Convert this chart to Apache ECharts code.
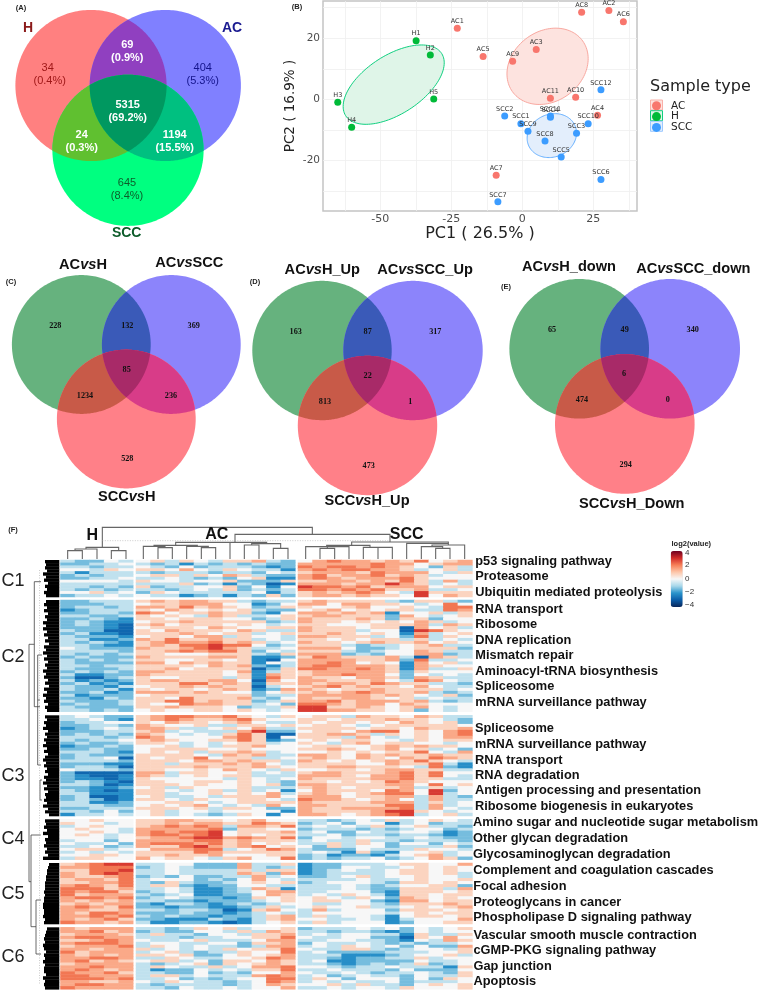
<!DOCTYPE html>
<html><head><meta charset="utf-8">
<style>html,body{margin:0;padding:0;background:#fff}#c{width:761px;height:992px}</style>
<script src="https://cdn.jsdelivr.net/npm/echarts@6/dist/echarts.min.js"></script>
</head><body><div id="c"></div>
<script>
// ---------- DATA ----------
const vennA = ['34','69','404','5315','24','1194','645'];
const vennAPct = ['(0.4%)','(0.9%)','(5.3%)','(69.2%)','(0.3%)','(15.5%)','(8.4%)'];
const vennC = ['228','132','369','85','1234','236','528'];
const vennD = ['163','87','317','22','813','1','473'];
const vennE = ['65','49','340','6','474','0','294'];

const pcaAC = [[-22.9,23.3,'AC1'],[30.5,29.1,'AC2'],[4.9,16.3,'AC3'],[26.5,-5.2,'AC4'],[-13.8,14.0,'AC5'],[35.6,25.4,'AC6'],[-9.2,-24.9,'AC7'],[20.9,28.5,'AC8'],[-3.4,12.5,'AC9'],[18.8,0.7,'AC10'],[9.9,0.3,'AC11']];
const pcaH = [[-37.4,19.2,'H1'],[-32.4,14.5,'H2'],[-65,-1,'H3'],[-60.1,-9.2,'H4'],[-31.2,0.1,'H5']];
const pcaSCC = [[-0.5,-8.0,'SCC1'],[-6.2,-5.5,'SCC2'],[19.1,-11.1,'SCC3'],[9.9,-5.9,'SCC4'],[13.7,-18.9,'SCC5'],[27.7,-26.3,'SCC6'],[-8.6,-33.6,'SCC7'],[8,-13.7,'SCC8'],[2,-10.5,'SCC9'],[23.2,-8,'SCC10'],[9.9,-5.5,'SCC11'],[27.7,3.1,'SCC12']];
// centre x, centre y, half extent x, half extent y, correlation (AC, H, SCC)
const ellipseAC = [8.9,10.8,14.3,12.5,0.2];
const ellipseH = [-45.3,4.8,17.8,13.0,0.55];
const ellipseSCC = [10.4,-11.9,8.7,7.2,0.12];

// heat map rows: one digit per sample, H(5) AC(11) SCC(12); value = (digit-5)*0.7
const C1 = [
"43354 56465466743 578776768567","33445 43424343433 777778775677","44344 54353444323 878878765364","55465 66575465442 787887764564",
"42444 43444344354 677768777546","34344 56646576433 786778676455","33445 44543435622 787677786555","55554 65545563336 667767686474",
"44444 44463424312 777677976454","44343 63445563525 988786777566","43434 44345463434 887878667445","55645 36544444524 676787549666",
"34454 54423424363 677676659576"];
const C2 = [
"33444 67677664344 676666436643","33344 56677755235 775776654585","34434 77686765346 655675565488","23444 65765656433 567565664487",
"33443 87566766325 776767255646","44334 65654764456 677666375456","33432 66566655346 766676366355","34322 56676666634 766565657645",
"34321 67566656545 665556667476","33321 56665765566 766656617564","43311 65766657644 766645519865","34221 66676566456 667656527456",
"43332 56657746554 776664538465","44223 76866766454 665656646454","43432 67877867645 766567667565","44322 67688988534 666434456744",
"54333 76678976445 777533456663","44443 66787886354 666434557644","43434 66555666436 777343557734","34333 76666776223 687666741764",
"43434 66556656215 777766738445","43333 77576766254 778756527564","44344 66665767324 788777627655","43334 66756666136 887787627446",
"34343 77666657246 677777636555","42233 76666656276 677877535454","31134 65566646286 766577637644","42323 67766775175 776667548754",
"34232 66688676266 767768766443","43324 56676766145 678676657544","43342 65665676237 765667666645","33423 77767655356 676787667434",
"42333 56666666344 777776765463","33243 66586667435 766776564544","43334 66886766346 778677767434","34334 65587766453 887677576555",
"43333 66766653446 996676567545","44343 56556656545 997766563545"];
const C3 = [
"45433 67887786546 566476657644","44532 67876678655 665666766543","34455 65766567544 656656576563","33443 76556446656 566545666665",
"23454 77644565744 666656657667","33344 67454447933 566578856578","34343 76545468611 667764656578","44434 87555578615 666475456577",
"43445 67655668623 565665546566","34334 66545456645 654675665545","23343 55645466755 566556767665","33433 56666556555 667656756453",
"44432 56564667645 556565668547","34333 66665476744 776576766766","34451 65668566445 676576576876","44443 66657767664 765656768654",
"33322 66466676754 666655766842","34431 66667666765 667766654832","54443 66556576546 556656776644","31111 77466556454 677666786855",
"32112 76456566444 777657786854","32212 65555546545 766667786644","34321 66556656543 665656876555","44312 66656556563 776666775856",
"33223 56465556444 676566674645","43212 66545646452 576665875935","44222 66455656574 676567885945","34112 56445466675 777566774743",
"34312 66546556654 877656754744","44223 55665456666 766667774645","44433 56567545475 776666884745","33444 66656466533 766777784754",
"44353 56455455552 766667996545","24454 56454346525 776567894564"];
const C4 = [
"55655 66776656755 443454645654","65545 66767766876 345355245344","45655 67878747768 454546456443","56554 77777836655 344434345534",
"55654 78788956667 453354455423","56545 78878956566 445344344323","55545 67789978768 355455445433","45535 77778867666 454464434443",
"54453 78887867565 446465355354","44534 76689767856 536455344463","56645 57778845687 433354446554","45454 66668766666 454263255645",
"55665 66766755566 342332456745","46655 75665467558 343445345763"];
const C5 = [
"67899 44553337446 233444566557","77888 34543337434 233554456565","66889 44544446466 234544566565","76898 44544447637 234444566564",
"76678 34353344745 334564556554","67768 45553435754 444454456556","66778 43643345656 345554366565","78768 46632335544 444543455663",
"88867 44542234762 444543366647","87886 34542234577 445553266656","86777 43452233576 454654266566","78878 34543323656 565465376565",
"76767 44332333456 566553277566","67677 32443234345 544554366676","78768 33233223464 565564456567","77667 44344312675 474555366656",
"76887 33343323454 455555456566","77878 43433233467 464554256656","76786 33222432467 554454245557","87767 42233212456 464555235566"];
const C6 = [
"76777 44346564556 344454535456","77867 34335546476 443443235455","67776 46443554667 454554426446","78877 44434455668 544553316575",
"66787 54456444577 445544325476","78887 45544553667 354454343445","67778 46545443477 454654535337","77677 64545465668 544664345546",
"86777 45643446558 453333444556","76767 66563356567 444222345564","77887 44654455687 443233446455","78676 56645366576 452233335445",
"67777 43456365676 443234346345","77877 46544645778 554344544426","78767 42335454668 445444353335","87786 44335343557 544543445436",
"88777 46645444787 453454435446","88878 44534345588 465355535365","77667 54654434587 454544534445","78877 43444434576 556464435656",
"87777 44354454557 445455465556"];
const clusterNames = ['C1','C2','C3','C4','C5','C6'];
const groupNames = ['H','AC','SCC'];
const pathways = [
 ['p53 signaling pathway','Proteasome','Ubiquitin mediated proteolysis'],
 ['RNA transport','Ribosome','DNA replication','Mismatch repair','Aminoacyl-tRNA biosynthesis','Spliceosome','mRNA surveillance pathway'],
 ['Spliceosome','mRNA surveillance pathway','RNA transport','RNA degradation','Antigen processing and presentation','Ribosome biogenesis in eukaryotes'],
 ['Amino sugar and nucleotide sugar metabolism','Other glycan degradation','Glycosaminoglycan degradation'],
 ['Complement and coagulation cascades','Focal adhesion','Proteoglycans in cancer','Phospholipase D signaling pathway'],
 ['Vascular smooth muscle contraction','cGMP-PKG signaling pathway','Gap junction','Apoptosis']];
const colorTicks = ['4','2','0','\u22122','\u22124'];

// ---------- LAYOUT ----------
const SANS='"Liberation Sans"', DJ='"DejaVu Sans"', SERIF='"Liberation Serif"';
const W=761,H=992;
const series=[], grids=[], xAxes=[], yAxes=[], g=[];
function txt(t,x,y,font,fill,extra){g.push({type:'text',z:100,silent:true,style:Object.assign({text:t,x,y,font,fill:fill||'#111',align:'center',verticalAlign:'middle'},extra||{})});}

// overlay grid in page units (axis 0)
grids.push({left:0,top:0,width:W,height:H,show:false});
xAxes.push({type:'value',gridIndex:0,min:0,max:W,show:false});
yAxes.push({type:'value',gridIndex:0,min:0,max:H,inverse:true,show:false});

// Venn regions
function regionPts(cs){
  const mx=cs.reduce((a,c)=>a+c[0],0)/cs.length,my=cs.reduce((a,c)=>a+c[1],0)/cs.length,pts=[];
  for(let i=0;i<240;i++){
    const t=i/240*2*Math.PI,dx=Math.cos(t),dy=Math.sin(t);let rr=1e9;
    cs.forEach(c=>{const fx=mx-c[0],fy=my-c[1],b=fx*dx+fy*dy,k=fx*fx+fy*fy-c[2]*c[2];rr=Math.min(rr,-b+Math.sqrt(b*b-k));});
    pts.push([mx+dx*rr,my+dy*rr]);
  }
  return pts;
}
const regions=[];
function venn(c1,c2,c3,cols){
  regions.push({pts:regionPts([c1]),c:cols[0]},{pts:regionPts([c2]),c:cols[1]},{pts:regionPts([c3]),c:cols[2]},
    {pts:regionPts([c1,c2]),c:cols[3]},{pts:regionPts([c1,c3]),c:cols[4]},{pts:regionPts([c2,c3]),c:cols[5]},{pts:regionPts([c1,c2,c3]),c:cols[6]});
}
venn([91,85.5,75.6],[165.3,85.5,75.6],[128,150.3,75.6],['#ff8080','#8080ff','#00ff80','#9040c0','#60c030','#00c080','#009860']);
const vennPal=['#66b27e','#8c84fb','#ff8088','#3a5ab8','#c85a48','#d83c88','#a82a68'];
venn([81.3,344.5,69.4],[171.3,344.5,69.4],[126.3,419,69.4],vennPal);
venn([322,350.5,69.7],[413,350.5,69.7],[367.5,425.5,69.7],vennPal);
venn([579.2,348.8,69.8],[670.2,348.8,69.8],[624.8,424,69.8],vennPal);
series.push({type:'custom',xAxisIndex:0,yAxisIndex:0,silent:true,clip:false,z:1,
  data:regions.map((r,i)=>[i,0]),
  renderItem(p,api){const r=regions[api.value(0)];return {type:'polygon',shape:{points:r.pts.map(q=>api.coord(q))},style:{fill:r.c}};}});

// Venn A text
const aPos=[[47.7,67.7,'#a01818'],[127.3,45,'#fff'],[202.7,67.7,'#14148c'],[127.7,105,'#fff'],[81.7,134.7,'#fff'],[174.7,134.7,'#fff'],[127,182.7,'#0d5c2a']];
vennA.forEach((s,i)=>{const w=aPos[i][2]=='#fff'?'bold ':'';txt(s,aPos[i][0],aPos[i][1],w+'11px '+SANS,aPos[i][2]);txt(vennAPct[i],aPos[i][0]+(i==0?2:0),aPos[i][1]+13.3,w+'11px '+SANS,aPos[i][2]);});
txt('H',28,28,'bold 14px '+SANS,'#8b1a1a');txt('AC',232,28,'bold 14px '+SANS,'#1a1a90');txt('SCC',126.7,232.7,'bold 14px '+SANS,'#0d5c2a');
// Venn C/D/E text
function nums(arr,pos){arr.forEach((s,i)=>txt(s,pos[i][0],pos[i][1],'bold 8.2px '+SERIF,'#111'));}
nums(vennC,[[55.3,326],[127.3,326],[193.7,326],[126.7,369.7],[85,395.7],[171,395.7],[127.3,459]]);
nums(vennD,[[295.7,332.3],[367.7,332.3],[435.3,332.3],[367.7,376],[325,402],[410.3,402],[368.7,466]]);
nums(vennE,[[552,330.3],[624.7,330.3],[692.7,330.3],[624,374.3],[582,400.3],[667.7,400.3],[625.7,464.7]]);
const rich={a:{font:'bold 14.6px '+SANS,fill:'#111'},i:{font:'italic bold 14.6px '+SANS,fill:'#111'}};
function vs(a,b,x,y){g.push({type:'text',z:100,silent:true,style:{text:'{a|'+a+'}{i|vs}{a|'+b+'}',rich,x,y,align:'center',verticalAlign:'middle'}});}
vs('AC','H',83,265);vs('AC','SCC',189.3,263.3);vs('SCC','H',126.7,497.3);
vs('AC','H_Up',322.3,270);vs('AC','SCC_Up',425,270);vs('SCC','H_Up',367,500.7);
vs('AC','H_down',569,267.3);vs('AC','SCC_down',693.3,269);vs('SCC','H_Down',631.7,504);
[['(A)',21,8],['(B)',297,7],['(C)',11,282],['(D)',255,282],['(E)',506,287],['(F)',13,530]].forEach(a=>txt(a[0],a[1],a[2],'bold 7.5px '+SANS,'#222'));

// PCA (axis 1)
grids.push({left:323,top:1,width:314,height:210,show:true,borderColor:'#c4c4c4',borderWidth:1.5,backgroundColor:'#fff'});
xAxes.push({type:'value',gridIndex:1,min:-70.2,max:40.4,name:'PC1 ( 26.5% )',nameLocation:'middle',nameGap:12,
  nameTextStyle:{fontFamily:'DejaVu Sans',fontSize:16,color:'#222'},
  axisLine:{show:false},axisTick:{show:false,customValues:[-62.5,-50,-37.5,-25,-12.5,0,12.5,25,37.5]},
  axisLabel:{customValues:[-50,-25,0,25],fontFamily:'DejaVu Sans',fontSize:11,color:'#4d4d4d',margin:3},
  splitLine:{show:true,lineStyle:{color:'#efefef',width:0.8}}});
yAxes.push({type:'value',gridIndex:1,min:-36.6,max:32.2,name:'PC2 ( 16.9% )',nameLocation:'middle',nameGap:25.5,
  nameTextStyle:{fontFamily:'DejaVu Sans',fontSize:13.5,color:'#222'},
  axisLine:{show:false},axisTick:{show:false,customValues:[-30,-20,-10,0,10,20,30]},
  axisLabel:{customValues:[-20,0,20],fontFamily:'DejaVu Sans',fontSize:10.5,color:'#4d4d4d',margin:3},
  splitLine:{show:true,lineStyle:{color:'#efefef',width:0.8}}});
function ellipse(v,fill,stroke){
  series.push({type:'custom',xAxisIndex:1,yAxisIndex:1,silent:true,z:2,data:[v],
    renderItem(p,api){const cx=api.value(0),cy=api.value(1),hx=api.value(2),hy=api.value(3),r=api.value(4),pts=[];
      for(let i=0;i<120;i++){const t=i/120*2*Math.PI;pts.push(api.coord([cx+hx*Math.cos(t),cy+hy*(r*Math.cos(t)+Math.sqrt(1-r*r)*Math.sin(t))]));}
      return {type:'polygon',shape:{points:pts},style:{fill,stroke,lineWidth:1}};},
    encode:{x:0,y:1}});
}
ellipse(ellipseAC,'#fde3df','#f9a8a0');ellipse(ellipseH,'#dff5e8','#10d080');ellipse(ellipseSCC,'#e3eefc','#66b0ff');
function pts(name,d,col){series.push({type:'scatter',name,xAxisIndex:1,yAxisIndex:1,z:3,symbolSize:7,itemStyle:{color:col,opacity:1},
  data:d.map(a=>({value:[a[0],a[1]],name:a[2]})),
  label:{show:true,position:'top',distance:0,formatter:'{b}',fontFamily:'DejaVu Sans',fontSize:6.5,color:'#333'}});}
pts('AC',pcaAC,'#f8766d');pts('H',pcaH,'#00ba38');pts('SCC',pcaSCC,'#3c9cff');
txt('Sample type',650,87,'16px '+DJ,'#222',{align:'left'});
[[100,'#fde3df','#f9b0a8'],[110.7,'#dff5e8','#10d080'],[121.3,'#e3eefc','#9cc8ff']].forEach(b=>g.push({type:'rect',z:1,silent:true,shape:{x:650.5,y:b[0],width:12,height:10},style:{fill:b[1],stroke:b[2],lineWidth:1}}));

// Heat map panels
const clusters=[C1,C2,C3,C4,C5,C6];
const xBlocks=[[60.5,72.7,0,5],[136,159.3,5,11],[298,174.4,16,12]];
const yBlocks=[[560,37],[600,111.7],[715.3,100.7],[819.3,40.4],[863,61],[927.3,62]];
const heatIdx=[];
clusters.forEach((rows,ci)=>{xBlocks.forEach((b,bi)=>{
  const gi=grids.length;
  grids.push({left:b[0],top:yBlocks[ci][0],width:b[1],height:yBlocks[ci][1],show:false});
  xAxes.push({type:'category',gridIndex:gi,show:false,data:Array.from({length:b[3]},(_,i)=>String(i))});
  yAxes.push({type:'category',gridIndex:gi,show:false,inverse:true,data:rows.map((_,i)=>String(i))});
  const d=[];
  rows.forEach((s,r)=>{const cl=s.replace(/ /g,'');for(let c=0;c<b[3];c++)d.push([c,r,(Number(cl[b[2]+c])-5)*0.7]);});
  heatIdx.push(series.length);
  series.push({type:'heatmap',xAxisIndex:gi,yAxisIndex:gi,silent:true,data:d,itemStyle:{borderWidth:0}});
});});

// Row dendrogram silhouettes: left edge per 3px strip, digit = offset from x=42
const jag=['343514263524','4252635141526372415263514263725142635','35241635241526314253624152634251637','3425163425361','76554433323221122132','5432312423132241323'];
yBlocks.forEach((b,i)=>{
  const s=jag[i],h=b[1]/s.length,d=[];
  for(let k=0;k<s.length;k++)d.push([42+Number(s[k]),b[0]+k*h,59.3,b[0]+(k+1)*h+0.3]);
  series.push({type:'custom',xAxisIndex:0,yAxisIndex:0,silent:true,z:2,data:d,encode:{x:[0,2],y:[1,3]},
    renderItem(p,api){const a=api.coord([api.value(0),api.value(1)]),c=api.coord([api.value(2),api.value(3)]);
      return {type:'rect',shape:{x:a[0],y:a[1],width:c[0]-a[0],height:c[1]-a[1]},style:{fill:'#000'}};}});
});
// Dendrogram branches
const zoomF=p=>p.map(q=>[q[0]/3,510+q[1]/3]);
const colBranches=[
[[203,147],[203,122],[247,122],[247,147]],[[225,122],[225,117],[291,117],[291,147]],[[258,117],[258,112],[356,112],[356,122]],[[334,147],[334,122],[378,122],[378,147]],
[[307,112],[307,52],[937,52],[937,73]],[[705,96],[705,73],[1170,73],[1170,96]],
[[474,147],[474,113],[517,113],[517,147]],[[430,147],[430,109],[495,109],[495,113]],[[604,147],[604,113],[647,113],[647,147]],[[560,147],[560,109],[625,109],[625,113]],
[[462,109],[462,106],[592,106],[592,109]],[[527,106],[527,97],[800,97],[800,101]],[[690,147],[690,97]],[[733,147],[733,105],[777,105],[777,147]],[[820,147],[820,115],[864,115],[864,147]],[[755,105],[755,101],[842,101],[842,115]],
[[960,147],[960,115],[1004,115],[1004,147]],[[917,147],[917,110],[1047,110],[1047,147]],[[982,115],[982,110]],[[1090,147],[1090,112],[1177,112],[1177,147]],[[1134,147],[1134,112]],[[980,110],[980,106],[1110,106],[1110,112]],
[[1055,106],[1055,96],[1345,96],[1345,105]],[[1220,147],[1220,100],[1345,100]],[[1264,147],[1264,110],[1328,110],[1328,115]],[[1307,147],[1307,115],[1350,115],[1350,147]],[[1296,110],[1296,105],[1394,105],[1394,147]]
].map(zoomF);
const rowBranches=[
[[41,581.7],[34.3,581.7],[34.3,706.7],[40,706.7]],[[34.3,644.3],[29,644.3],[29,881.7],[31,881.7]],[[40.7,835],[31,835],[31,926.7],[36,926.7]],
[[41,900],[36,900],[36,954],[41,954]],[[42,655],[37.7,655],[37.7,765],[41,765]],[[37.7,700],[40,700]],[[42,780],[40,780],[40,800],[42,800]]];
function lines(list,col,w,dash){series.push({type:'custom',xAxisIndex:0,yAxisIndex:0,silent:true,z:2,clip:false,data:list.map((_,i)=>[i,0]),
  renderItem(p,api){return {type:'polyline',shape:{points:list[api.value(0)].map(q=>api.coord(q))},style:{stroke:col,lineWidth:w,fill:null,lineDash:dash||null}};}});}
lines(colBranches,'#666',1.1);lines(rowBranches,'#444',0.8);
lines([zoomF([[307,92],[1170,92]]),[[39.5,570],[39.5,985]]],'#aaa',0.6,[1,1.5]);

groupNames.forEach((n,i)=>txt(n,[92.3,216.7,406.7][i],[536,535,535][i],'bold 16px '+SANS,'#111'));
clusterNames.forEach((n,i)=>txt(n,13,[580.7,656.7,776,839,894,957][i],'18px '+SANS,'#222'));
const pathY=[[561,576.7,592],[609,624.7,640,655.7,671.3,686.7,702.3],[728.3,744,760,775,790.7,806.3],[822.7,838.3,854],[870.3,886,902,917.3],[935,950.7,966,981.7]];
const pathX=[475.3,475.3,475,473,473.3,473.5];
pathways.forEach((l,i)=>l.forEach((s,j)=>txt(s,pathX[i],pathY[i][j],'bold 12.8px '+SANS,'#111',{align:'left'})));
txt('log2(value)',671.5,543.5,'bold 7.5px '+SANS,'#222',{align:'left'});
colorTicks.forEach((s,i)=>txt(s,685,[552.7,565,578.7,592,604.6][i],'8px '+SANS,'#333',{align:'left'}));

const option={animation:false,backgroundColor:'#fff',grid:grids,xAxis:xAxes,yAxis:yAxes,series,graphic:{elements:g},
  tooltip:{show:false},
  legend:{data:['AC','H','SCC'],orient:'vertical',left:652,top:100.3,itemWidth:9,itemHeight:9,itemGap:-0.2,icon:'circle',selectedMode:false,padding:0,
    textStyle:{fontFamily:'DejaVu Sans',fontSize:10.5,color:'#222',lineHeight:9,padding:[0,0,0,5]}},
  visualMap:{type:'continuous',min:-4,max:4,seriesIndex:heatIdx,calculable:false,left:670.7,top:551,itemWidth:12,itemHeight:56,padding:0,text:null,showLabel:false,realtime:false,
    inRange:{color:['#08265a','#0a5ca8','#2a94cc','#a8d8ea','#f7f7f7','#fdc5a8','#f67f58','#d02a28','#6e0020']}}};
echarts.init(document.getElementById('c'),null,{renderer:'canvas'}).setOption(option);
</script></body></html>
